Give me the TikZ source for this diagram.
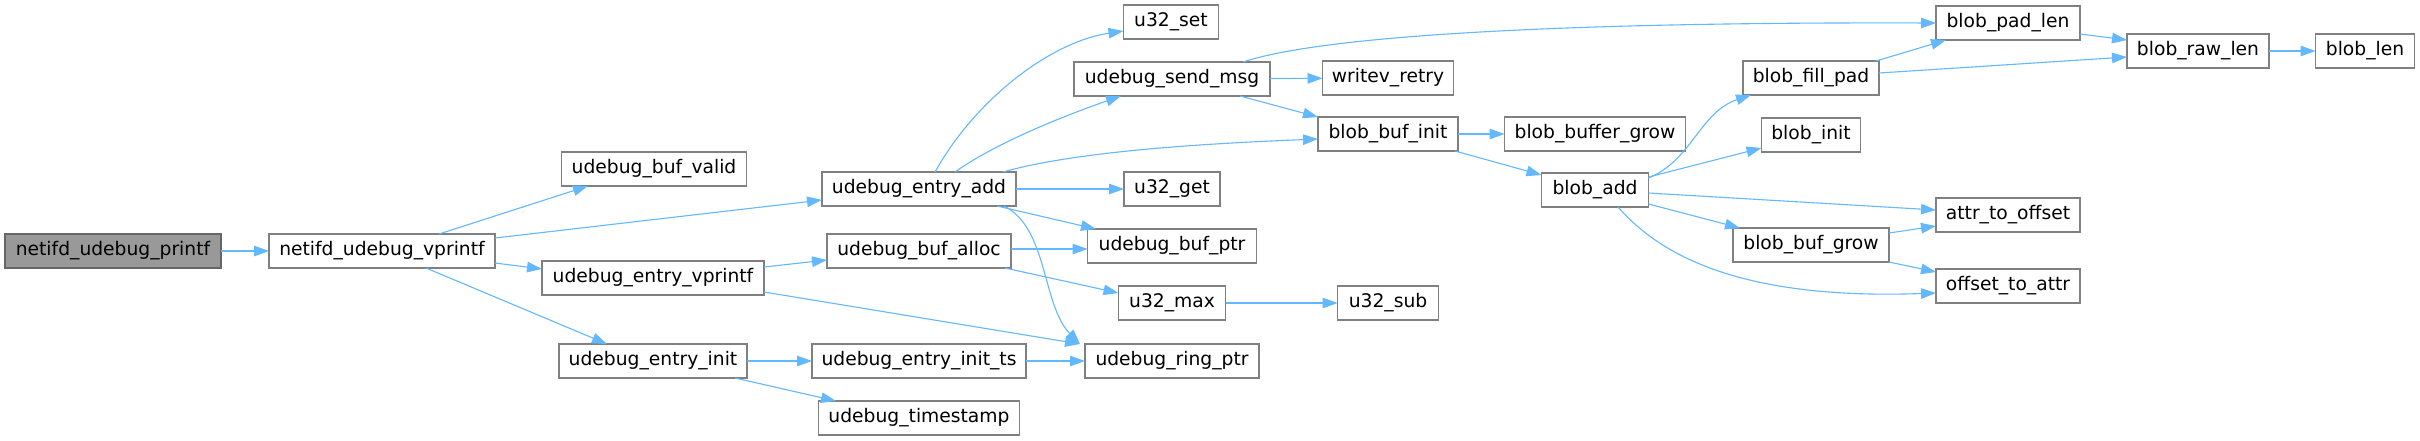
\documentclass[tikz,border=0pt]{standalone}
\usepackage{fontspec}
\newfontfamily\dvfont{DejaVu Sans}
\usetikzlibrary{arrows.meta}
\definecolor{edgeblue}{HTML}{63B8FF}
\definecolor{boxgray}{HTML}{808080}
\definecolor{rootfill}{HTML}{999999}
\tikzset{
  fn/.style={draw=boxgray, line width=1.2pt, fill=white, rectangle, inner sep=0pt, outer sep=0pt,
    minimum height=34pt, font=\dvfont\fontsize{18.7pt}{22pt}\selectfont, text=black},
  rootfn/.style={fn, fill=rootfill, draw=boxgray!80!black},
  edge/.style={draw=edgeblue, line width=1.1pt, -{Triangle[length=15pt,width=10.5pt]}}
}
\begin{document}
\begin{tikzpicture}[x=1pt,y=-1pt]
\useasboundingbox[fill=white] (0,0) rectangle (2420,440);
% rank 0-2
\node[rootfn, minimum width=216pt] (printf) at (113,251) {netifd\_udebug\_printf};
\node[fn, minimum width=226pt] (vprintf) at (382,251) {netifd\_udebug\_vprintf};
\node[fn, minimum width=185pt] (bufvalid) at (654,169) {udebug\_buf\_valid};
\node[fn, minimum width=222pt] (entryvprintf) at (653,278) {udebug\_entry\_vprintf};
\node[fn, minimum width=188pt] (entryinit) at (653,361) {udebug\_entry\_init};
% rank 3
\node[fn, minimum width=194pt] (entryadd) at (919,189) {udebug\_entry\_add};
\node[fn, minimum width=184pt] (bufalloc) at (919,251) {udebug\_buf\_alloc};
\node[fn, minimum width=214pt] (initts) at (919,361) {udebug\_entry\_init\_ts};
\node[fn, minimum width=201pt] (timestamp) at (919,418) {udebug\_timestamp};
% rank 4
\node[fn, minimum width=95pt] (u32set) at (1171,22) {u32\_set};
\node[fn, minimum width=196pt] (sendmsg) at (1172,79) {udebug\_send\_msg};
\node[fn, minimum width=96pt] (u32get) at (1172,189) {u32\_get};
\node[fn, minimum width=169pt] (bufptr) at (1172,246) {udebug\_buf\_ptr};
\node[fn, minimum width=107pt] (u32max) at (1172,303) {u32\_max};
\node[fn, minimum width=174pt] (ringptr) at (1172,361) {udebug\_ring\_ptr};
% rank 5
\node[fn, minimum width=131pt] (writev) at (1388,78) {writev\_retry};
\node[fn, minimum width=140pt] (bbinit) at (1388,134) {blob\_buf\_init};
\node[fn, minimum width=101pt] (u32sub) at (1388,303) {u32\_sub};
% rank 6
\node[fn, minimum width=181pt] (buffergrow) at (1595,134) {blob\_buffer\_grow};
\node[fn, minimum width=107pt] (blobadd) at (1595,190) {blob\_add};
% rank 7
\node[fn, minimum width=136pt] (fillpad) at (1811,78) {blob\_fill\_pad};
\node[fn, minimum width=99pt] (blobinit) at (1811,135) {blob\_init};
\node[fn, minimum width=156pt] (bbgrow) at (1811,245) {blob\_buf\_grow};
% rank 8
\node[fn, minimum width=144pt] (padlen) at (2008,23) {blob\_pad\_len};
\node[fn, minimum width=144pt] (attr) at (2008,215) {attr\_to\_offset};
\node[fn, minimum width=144pt] (otoa) at (2008,286) {offset\_to\_attr};
% rank 9-10
\node[fn, minimum width=142pt] (rawlen) at (2198,51) {blob\_raw\_len};
\node[fn, minimum width=99pt] (bloblen) at (2365,51) {blob\_len};

% edges
\draw[edge] (printf) -- (vprintf);
\draw[edge] ([xshift=57pt]vprintf.north) -- ([xshift=-66pt]bufvalid.south);
\draw[edge] ([yshift=13pt]vprintf.east) -- ([yshift=-11pt]entryadd.west);
\draw[edge] ([yshift=-12pt]vprintf.east) -- ([yshift=9pt]entryvprintf.west);
\draw[edge] ([xshift=44pt]vprintf.south) -- ([xshift=-46pt]entryinit.north);
\draw[edge] ([yshift=11pt]entryvprintf.east) -- ([yshift=-9pt]bufalloc.west);
\draw[edge] ([yshift=-14pt]entryvprintf.east) -- ([xshift=-5pt]ringptr.north west);
\draw[edge] (entryinit) -- (initts);
\draw[edge] ([xshift=82pt]entryinit.south) -- ([xshift=-83pt]timestamp.north);
\draw[edge] (initts) -- (ringptr);
\draw[edge] ([xshift=16pt]entryadd.north) .. controls (975,100) and (1050,42) .. ([yshift=-9pt]u32set.west);
\draw[edge] ([xshift=36pt]entryadd.north) .. controls (1000,140) and (1075,112) .. ([xshift=-51pt]sendmsg.south);
\draw[edge] ([xshift=84pt]entryadd.north) .. controls (1080,150) and (1220,143) .. ([yshift=-5pt]bbinit.west);
\draw[edge] (entryadd) -- (u32get);
\draw[edge] ([xshift=78pt]entryadd.south) -- ([xshift=-76pt]bufptr.north);
\draw[edge] ([xshift=85pt]entryadd.south) .. controls (1048,228) and (1042,305) .. ([xshift=-5pt]ringptr.north west);
\draw[edge] ([xshift=71pt]sendmsg.north) .. controls (1330,33) and (1600,22) .. (padlen.west);
\draw[edge] (sendmsg) -- (writev);
\draw[edge] ([xshift=68pt]sendmsg.south) -- (bbinit.north west);
\draw[edge] (bbinit) -- (buffergrow);
\draw[edge] ([xshift=-3pt]bbinit.south east) -- ([yshift=-2pt]blobadd.north west);
\draw[edge] ([yshift=12pt]blobadd.east) .. controls (1692,160) and (1700,112) .. ([xshift=8pt]fillpad.south west);
\draw[edge] ([yshift=13pt]blobadd.east) -- ([yshift=-13pt]blobinit.west);
\draw[edge] ([yshift=-3pt]blobadd.east) -- ([yshift=5pt]attr.west);
\draw[edge] ([yshift=-14pt]blobadd.east) -- ([xshift=7pt]bbgrow.north west);
\draw[edge] ([xshift=23pt]blobadd.south) .. controls (1660,255) and (1740,300) .. ([yshift=-7pt]otoa.west);
\draw[edge] ([xshift=-3pt]fillpad.north east) -- ([xshift=10pt]padlen.south west);
\draw[edge] ([yshift=5pt]fillpad.east) -- ([yshift=-6pt]rawlen.west);
\draw[edge] ([yshift=-11pt]padlen.east) -- ([yshift=11pt]rawlen.west);
\draw[edge] (rawlen) -- (bloblen);
\draw[edge] ([yshift=12pt]bbgrow.east) -- ([yshift=-11pt]attr.west);
\draw[edge] (bbgrow.south east) -- ([yshift=14pt]otoa.west);
\draw[edge] (u32max) -- (u32sub);
\draw[edge] ([yshift=2pt]bufalloc.east) -- ([yshift=-3pt]bufptr.west);
\draw[edge] ([xshift=-6pt]bufalloc.south east) -- ([yshift=10pt]u32max.west);
\end{tikzpicture}
\end{document}
